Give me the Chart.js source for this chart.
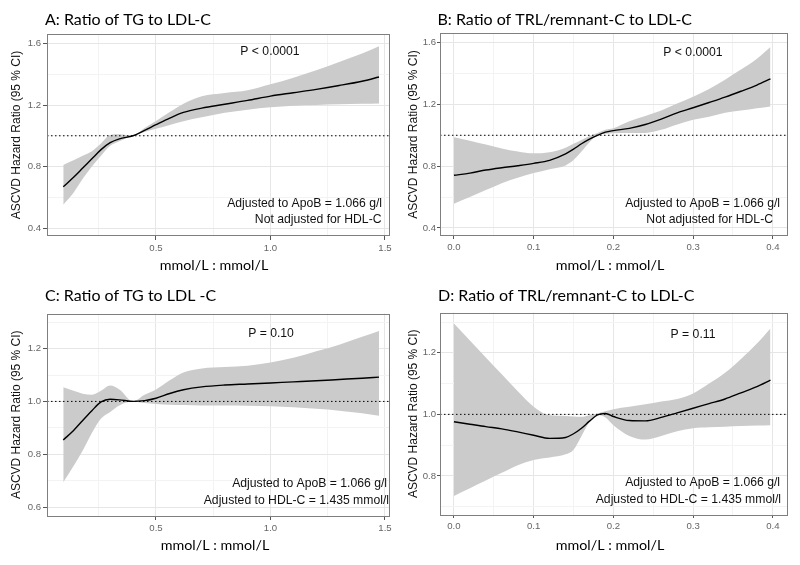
<!DOCTYPE html>
<html><head><meta charset="utf-8">
<script src="https://cdn.jsdelivr.net/npm/chart.js@4/dist/chart.umd.min.js"></script>
<style>
html,body{margin:0;padding:0;background:#fff;}
#wrap{position:relative;width:800px;height:565px;overflow:hidden;background:#fff;}
canvas{position:absolute;}
</style></head><body>
<div id="wrap">
<canvas id="cA" width="400" height="280" style="left:0;top:0;width:400px;height:280px"></canvas>
<canvas id="cB" width="400" height="280" style="left:400px;top:0;width:400px;height:280px"></canvas>
<canvas id="cC" width="400" height="285" style="left:0;top:280px;width:400px;height:285px"></canvas>
<canvas id="cD" width="400" height="285" style="left:400px;top:280px;width:400px;height:285px"></canvas>
</div>
<script>
// ---------- DATA ----------
// Panels A and C: TG : LDL-C ratio
const xTG = [0.095, 0.14, 0.18, 0.22, 0.26, 0.30, 0.34, 0.40, 0.45, 0.50, 0.56, 0.62, 0.70, 0.80, 0.90, 1.00, 1.10, 1.20, 1.30, 1.40, 1.474];
const hrA    = [0.668, 0.73, 0.79, 0.85, 0.91, 0.955, 0.98, 1.0, 1.035, 1.072, 1.115, 1.152, 1.18, 1.205, 1.23, 1.258, 1.28, 1.302, 1.327, 1.355, 1.382];
const upperA = [0.81, 0.84, 0.87, 0.90, 0.95, 1.005, 1.01, 1.0, 1.05, 1.096, 1.154, 1.209, 1.257, 1.278, 1.296, 1.335, 1.378, 1.426, 1.48, 1.535, 1.583];
const lowerA = [0.552, 0.63, 0.72, 0.80, 0.87, 0.935, 0.965, 1.0, 1.025, 1.045, 1.07, 1.095, 1.12, 1.15, 1.17, 1.185, 1.195, 1.20, 1.205, 1.208, 1.21];

const hrC    = [0.854, 0.89, 0.928, 0.965, 0.998, 1.008, 1.006, 1.0, 1.003, 1.012, 1.03, 1.044, 1.055, 1.062, 1.066, 1.07, 1.074, 1.078, 1.083, 1.088, 1.092];
const upperC = [1.054, 1.04, 1.029, 1.025, 1.04, 1.06, 1.045, 1.0, 1.025, 1.045, 1.08, 1.11, 1.125, 1.13, 1.135, 1.147, 1.165, 1.19, 1.215, 1.245, 1.267];
const lowerC = [0.694, 0.755, 0.814, 0.88, 0.935, 0.96, 0.985, 1.0, 0.994, 0.99, 0.987, 0.986, 0.985, 0.985, 0.984, 0.982, 0.978, 0.972, 0.965, 0.955, 0.946];

// Panels B and D: TRL/remnant-C : LDL-C ratio
const xTRL = [0, 0.02, 0.04, 0.06, 0.08, 0.10, 0.12, 0.14, 0.15, 0.16, 0.17, 0.18, 0.19, 0.20, 0.22, 0.24, 0.26, 0.28, 0.30, 0.32, 0.34, 0.36, 0.38, 0.397];
const hrB    = [0.741, 0.755, 0.775, 0.79, 0.803, 0.818, 0.838, 0.88, 0.91, 0.945, 0.975, 1.0, 1.02, 1.03, 1.045, 1.07, 1.105, 1.145, 1.178, 1.212, 1.247, 1.285, 1.325, 1.365];
const upperB = [0.987, 0.965, 0.94, 0.915, 0.895, 0.883, 0.89, 0.92, 0.945, 0.97, 0.995, 1.015, 1.035, 1.045, 1.09, 1.125, 1.16, 1.205, 1.25, 1.30, 1.36, 1.425, 1.495, 1.572];
const lowerB = [0.557, 0.6, 0.645, 0.69, 0.725, 0.755, 0.78, 0.805, 0.84, 0.895, 0.955, 1.0, 1.01, 1.013, 1.015, 1.015, 1.035, 1.07, 1.1, 1.12, 1.145, 1.16, 1.175, 1.187];

const hrD    = [0.976, 0.968, 0.96, 0.953, 0.943, 0.932, 0.922, 0.925, 0.937, 0.955, 0.978, 0.998, 1.003, 0.993, 0.98, 0.979, 0.99, 1.005, 1.02, 1.035, 1.05, 1.07, 1.09, 1.111];
const upperD = [1.295, 1.24, 1.185, 1.13, 1.075, 1.025, 0.997, 0.995, 0.993, 0.992, 0.997, 1.003, 1.01, 1.017, 1.025, 1.033, 1.042, 1.05, 1.068, 1.10, 1.135, 1.18, 1.23, 1.279];
const lowerD = [0.735, 0.76, 0.785, 0.81, 0.835, 0.852, 0.86, 0.87, 0.885, 0.93, 0.975, 0.998, 0.99, 0.965, 0.93, 0.918, 0.93, 0.945, 0.955, 0.958, 0.96, 0.962, 0.964, 0.965];

// Reference hazard ratio
const refHR = 1.0;

// Tick labels
const xMajorTG = [0.5, 1.0, 1.5];
const xMinorTG = [0.25, 0.75, 1.25];
const xMajorTRL = [0.0, 0.1, 0.2, 0.3, 0.4];
const xMinorTRL = [0.05, 0.15, 0.25, 0.35];
const yMajorAB = [0.4, 0.8, 1.2, 1.6];
const yMinorAB = [0.6, 1.0, 1.4];
const yMajorC = [0.6, 0.8, 1.0, 1.2];
const yMinorC = [0.7, 0.9, 1.1, 1.3];
const yMajorD = [0.8, 1.0, 1.2];
const yMinorD = [0.7, 0.9, 1.1, 1.3];

// Texts
const titles = ["A: Ratio of TG to LDL-C", "B: Ratio of TRL/remnant-C to LDL-C", "C: Ratio of TG to LDL -C", "D: Ratio of TRL/remnant-C to LDL-C"];
const pTexts = ["P < 0.0001", "P < 0.0001", "P = 0.10", "P = 0.11"];
const adjLine1 = "Adjusted to ApoB = 1.066 g/l";
const adjLine2 = ["Not adjusted for HDL-C", "Not adjusted for HDL-C", "Adjusted to HDL-C = 1.435 mmol/l", "Adjusted to HDL-C = 1.435 mmol/l"];
const yTitle = "ASCVD Hazard Ratio (95 % CI)";
const xTitle = "mmol/L : mmol/L";

// ---------- CHART ----------
const near = (arr, v) => arr.some(m => Math.abs(m - v) < 1e-9);

function axis(min, max, major, minor, tl, pad, fit, isX) {
  const all = major.concat(minor).sort((a, b) => a - b);
  return {
    type: 'linear', min, max,
    afterBuildTicks: s => { s.ticks = all.map(v => ({ value: v })); },
    afterFit: s => { if (isX) s.height = fit; else s.width = fit; },
    ticks: {
      callback: v => near(major, v) ? Number(v).toFixed(1) : '',
      color: '#666',
      font: { family: '"Liberation Sans", Arial, sans-serif', size: 9.6 },
      padding: pad, maxRotation: 0, autoSkip: false
    },
    grid: {
      color: c => (c.tick && near(major, c.tick.value)) ? '#e6e6e6' : '#f3f3f3',
      tickColor: c => (c.tick && near(major, c.tick.value)) ? '#555' : 'rgba(0,0,0,0)',
      tickLength: tl, lineWidth: 1
    },
    border: { display: false }
  };
}

const decor = {
  id: 'decor',
  afterDraw(chart, args, o) {
    const ctx = chart.ctx, a = chart.chartArea;
    ctx.save();
    ctx.strokeStyle = '#7f7f7f'; ctx.lineWidth = 1;
    ctx.strokeRect(Math.round(a.left) + 0.5, Math.round(a.top) + 0.5, Math.round(a.right - a.left) - 1, Math.round(a.bottom - a.top) - 1);
    ctx.fillStyle = '#000';
    ctx.font = '16px Lato, "Open Sans", sans-serif';
    ctx.textAlign = 'left'; ctx.textBaseline = 'alphabetic';
    ctx.fillText(o.title, o.titleX, o.titleY);
    ctx.font = '14.3px Lato, "Open Sans", sans-serif';
    ctx.textAlign = 'center'; ctx.textBaseline = 'middle';
    ctx.fillText(xTitle, o.xTitleX, o.xTitleY);
    ctx.save();
    ctx.translate(o.yTitleX, (a.top + a.bottom) / 2);
    ctx.rotate(-Math.PI / 2);
    ctx.font = '12px "Liberation Sans", Arial, sans-serif';
    ctx.fillStyle = '#111';
    ctx.fillText(yTitle, 0, 0);
    ctx.restore();
    ctx.font = '12.2px "Liberation Sans", Arial, sans-serif';
    ctx.fillStyle = '#111';
    ctx.textAlign = 'center';
    ctx.fillText(o.p, o.pX, o.pY);
    ctx.textAlign = 'right';
    ctx.fillText(o.l1, o.l1X, o.l1Y);
    ctx.fillText(o.l2, o.l2X, o.l2Y);
    ctx.restore();
  }
};

function make(id, xs, hr, up, lo, xr, yr, xMaj, xMin, yMaj, yMin, geo, d) {
  const pts = arr => xs.map((x, i) => ({ x: x, y: arr[i] }));
  const H = document.getElementById(id).height;
  new Chart(document.getElementById(id), {
    type: 'line',
    data: {
      datasets: [
        { data: pts(hr), borderColor: '#000', borderWidth: 1.4, pointRadius: 0, fill: false, cubicInterpolationMode: 'monotone' },
        { data: [{ x: xr[0], y: refHR }, { x: xr[1], y: refHR }], borderColor: '#000', borderWidth: 1, borderDash: [1.5, 2.5], pointRadius: 0, fill: false },
        { data: pts(up), borderWidth: 0, borderColor: 'rgba(0,0,0,0)', backgroundColor: '#cbcbcb', pointRadius: 0, fill: '+1', cubicInterpolationMode: 'monotone' },
        { data: pts(lo), borderWidth: 0, borderColor: 'rgba(0,0,0,0)', pointRadius: 0, fill: false, cubicInterpolationMode: 'monotone' }
      ]
    },
    options: {
      responsive: false, animation: false, devicePixelRatio: 1,
      layout: { padding: { left: 0, top: geo.top, right: 400 - geo.right, bottom: 0 } },
      scales: {
        x: axis(xr[0], xr[1], xMaj, xMin, geo.tl, geo.xpad, H - geo.bottom, true),
        y: axis(yr[0], yr[1], yMaj, yMin, geo.tl, geo.ypad, geo.left, false)
      },
      plugins: { legend: { display: false }, tooltip: { enabled: false }, decor: d }
    },
    plugins: [decor]
  });
}

make('cA', xTG, hrA, upperA, lowerA, [0.024, 1.522], [0.348, 1.662], xMajorTG, xMinorTG, yMajorAB, yMinorAB,
  { left: 47, right: 390, top: 34, bottom: 236, tl: 4, xpad: 3, ypad: 2 },
  { title: titles[0], titleX: 45, titleY: 25, xTitleX: 214, xTitleY: 265, yTitleX: 17,
    p: pTexts[0], pX: 270, pY: 52, l1: adjLine1, l1X: 382, l1Y: 204, l2: adjLine2[0], l2X: 381.5, l2Y: 220 });

make('cB', xTRL, hrB, upperB, lowerB, [-0.0175, 0.419], [0.348, 1.662], xMajorTRL, xMinorTRL, yMajorAB, yMinorAB,
  { left: 40, right: 388, top: 33, bottom: 236, tl: 3, xpad: 3, ypad: 1 },
  { title: titles[1], titleX: 37.5, titleY: 25, xTitleX: 210, xTitleY: 265, yTitleX: 13.5,
    p: pTexts[1], pX: 293, pY: 53, l1: adjLine1, l1X: 380, l1Y: 204, l2: adjLine2[1], l2X: 373, l2Y: 220 });

make('cC', xTG, hrC, upperC, lowerC, [0.024, 1.522], [0.566, 1.333], xMajorTG, xMinorTG, yMajorC, yMinorC,
  { left: 47, right: 390, top: 33.5, bottom: 236, tl: 4, xpad: 3, ypad: 2 },
  { title: titles[2], titleX: 45, titleY: 21, xTitleX: 215, xTitleY: 265, yTitleX: 17,
    p: pTexts[2], pX: 271, pY: 54, l1: adjLine1, l1X: 387, l1Y: 203.5, l2: adjLine2[2], l2X: 389, l2Y: 220.5 });

make('cD', xTRL, hrD, upperD, lowerD, [-0.0175, 0.419], [0.673, 1.331], xMajorTRL, xMinorTRL, yMajorD, yMinorD,
  { left: 40, right: 388, top: 32.5, bottom: 235, tl: 3, xpad: 3, ypad: 1 },
  { title: titles[3], titleX: 38, titleY: 21, xTitleX: 210, xTitleY: 265, yTitleX: 13.5,
    p: pTexts[3], pX: 293, pY: 55, l1: adjLine1, l1X: 380, l1Y: 202.5, l2: adjLine2[3], l2X: 381, l2Y: 219.5 });
</script>
</body></html>
